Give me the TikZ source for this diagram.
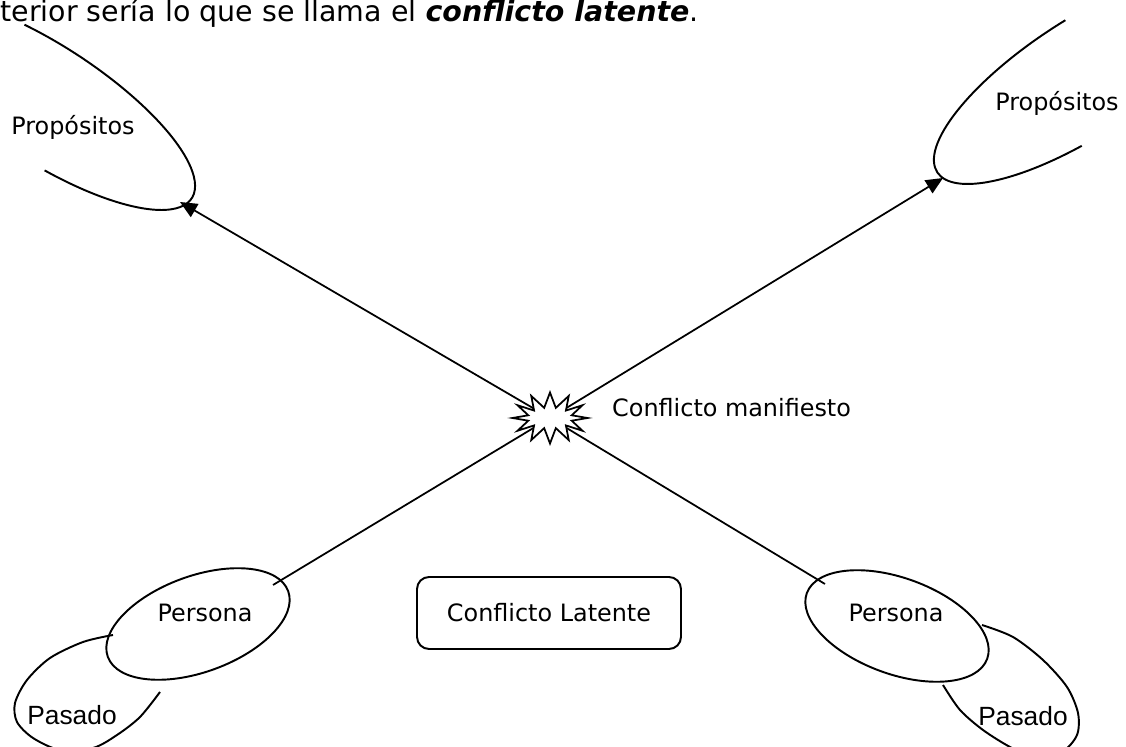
\documentclass[tikz,border=0pt]{standalone}
\usepackage{fontspec}
\setmainfont{DejaVu Sans}[ItalicFont={DejaVu Sans Oblique}, BoldFont={DejaVu Sans Bold}, BoldItalicFont={DejaVu Sans Bold Oblique}]
\newfontfamily\arialfont{Liberation Sans}
\usepackage{tikz}
\usetikzlibrary{shapes, shapes.symbols, arrows.meta, positioning, backgrounds}

\begin{document}
\begin{tikzpicture}[x=0.02cm, y=0.02cm, every node/.style={font=\fontsize{13.6}{16}\selectfont},
        line/.style={line width=1pt},
        arr/.style={line width=1pt, -{Triangle[length=0.34cm, width=0.3cm]}},
        shape line/.style={line width=1.1pt},
        past/.style={font=\arialfont\fontsize{15}{18}\selectfont}]
        \useasboundingbox (0,0) rectangle (1126,747);
        \clip (0,0) rectangle (1126,747);
        % Intro text
        \node[anchor=base west, inner sep=0pt, font=\fontsize{16.2}{19}\selectfont] (intro) at (0,725) {terior sería lo que se llama el \textbf{\textit{conflicto latente}}.};
        % Burst
        \node[draw, line, fill=white, starburst, starburst points=12, random starburst=0, starburst point height=0.3cm, minimum width=1.5cm, minimum height=1.02cm, inner sep=0pt] (burst) at (550,329) {};
        \node[anchor=west] (manif) at (606,339) {Conflicto manifiesto};
        % Purposes
        \begin{scope}[shift={(45,644)}, rotate=-33]
            \draw[shape line] (110:3.5cm and 1.16cm) arc[start angle=110, end angle=-78, x radius=3.5cm, y radius=1.16cm];
        \end{scope}
        \begin{scope}[shift={(1084,670)}, rotate=33]
            \draw[shape line] (85:3.5cm and 1.16cm) arc[start angle=85, end angle=257, x radius=3.5cm, y radius=1.16cm];
        \end{scope}
        \node (propL) at (73,620) {Propósitos};
        \node (propR) at (1057,644) {Propósitos};
        \coordinate (tipL) at (180,545);
        \coordinate (tipR) at (943,569);
        % Past
        \draw[shape line] plot[smooth] coordinates {(113,112) (83,105) (50,89) (27,67) (15,44) (17,25) (33,9) (60,-3) (93,-1) (117,12) (140,30) (160,55)};
        \draw[shape line] plot[smooth] coordinates {(982,122) (1013,110) (1043,87) (1067,60) (1078,34) (1077,12) (1062,-5) (1035,-11) (1010,0) (983,17) (960,37) (943,62)};
        \node[past] (pastL) at (72,32) {Pasado};
        \node[past] (pastR) at (1023,31) {Pasado};
        % Persons
        \draw[shape line, rotate around={20:(198,123)}] (198,123) ellipse [x radius=1.92cm, y radius=0.96cm];
        \draw[shape line, rotate around={-20:(897,121)}] (897,121) ellipse [x radius=1.92cm, y radius=0.96cm];
        \node (persL) at (205,134) {Persona};
        \node (persR) at (896,134) {Persona};
        \coordinate (endL) at (273,162);
        \coordinate (endR) at (825,163);
        % Latent conflict
        \node[draw, shape line, rounded corners=0.24cm, minimum width=5.28cm, minimum height=1.44cm] (latent) at (549,134) {Conflicto Latente};
        % Arrows
        \begin{pgfonlayer}{background}
            \draw[arr] (burst.center) -- (tipL);
            \draw[arr] (burst.center) -- (tipR);
            \draw[line] (burst.center) -- (endL);
            \draw[line] (burst.center) -- (endR);
        \end{pgfonlayer}
\end{tikzpicture}
\end{document}
